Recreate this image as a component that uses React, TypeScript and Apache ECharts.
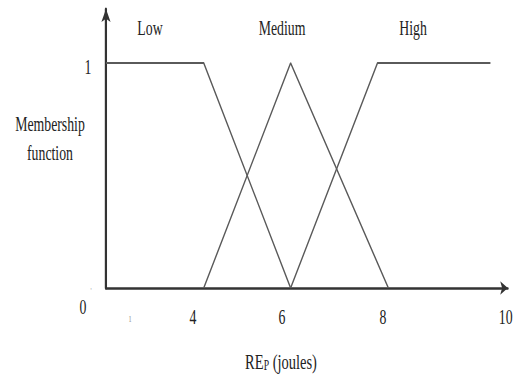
import React, { useEffect, useRef } from "react";
import * as echarts from "echarts";

// ---- data ----
const categories = ["Low", "Medium", "High"];
const lowX = [1.75, 4, 6];
const lowY = [1, 1, 0];
const mediumX = [4, 6, 8.25];
const mediumY = [0, 1, 0];
const highX = [6, 8, 10.6];
const highY = [0, 1, 1];
const xTickValues = [4, 6, 8, 10];
const xTickLabels = ["4", "6", "8", "10"];
const yTickValues = [0, 1];
const yTickLabels = ["'", "1"];
const xRange = [1.75, 11];
const yRange = [0, 1.24];

// ---- layout (the reference is horizontally compressed) ----
const SCALE_X = 0.69;
const W = 517 / SCALE_X;
const H = 376;
const FONT = "'Liberation Serif', 'Times New Roman', serif";
const TXT = "#222";
const xLabelPad = [
  [0, 31, 0, 0],
  [0, 25, 0, 0],
  [0, 0, 0, 16],
  [0, 0, 0, 120],
];

function zip(xs: number[], ys: number[]) {
  return xs.map((x, i) => [x, ys[i]]);
}

export default function App() {
  const ref = useRef<HTMLDivElement>(null);
  useEffect(() => {
    if (!ref.current) return;
    const chart = echarts.init(ref.current, null, { renderer: "svg" });
    const seriesData = [zip(lowX, lowY), zip(mediumX, mediumY), zip(highX, highY)];
    const xRich: any = {};
    xTickLabels.forEach((_, i) => {
      xRich["t" + i] = { fontSize: 20, fontFamily: FONT, color: TXT, padding: xLabelPad[i] };
    });
    const ax = (x: number) => x / SCALE_X;
    chart.setOption({
      animation: false,
      backgroundColor: "#ffffff",
      grid: { left: ax(106), right: W - ax(508), top: 9, bottom: 88, containLabel: false },
      xAxis: {
        type: "value",
        min: xRange[0],
        max: xRange[1],
        splitLine: { show: false },
        axisTick: { show: false },
        axisLine: {
          show: true,
          lineStyle: { color: "#333", width: 2.5 },
          symbol: ["none", "arrow"],
          symbolSize: [10, 11],
        },
        axisLabel: {
          show: true,
          customValues: xTickValues,
          margin: 20,
          formatter: (v: number) => {
            const i = xTickValues.indexOf(v);
            return i < 0 ? "" : `{t${i}|${xTickLabels[i]}}`;
          },
          rich: xRich,
        },
      },
      yAxis: {
        type: "value",
        min: yRange[0],
        max: yRange[1],
        splitLine: { show: false },
        axisTick: { show: false },
        axisLine: {
          show: true,
          lineStyle: { color: "#333", width: 3.2 },
          symbol: ["none", "arrow"],
          symbolSize: [10, 13],
        },
        axisLabel: {
          show: true,
          customValues: yTickValues,
          margin: 21,
          formatter: (v: number) => {
            const i = yTickValues.indexOf(v);
            return i < 0 ? "" : i === 0 ? `{s|${yTickLabels[i]}}` : `{n|${yTickLabels[i]}}`;
          },
          rich: {
            n: { fontSize: 20, fontFamily: FONT, color: TXT, padding: [10, 0, 0, 0] },
            s: { fontSize: 9, fontFamily: FONT, color: "#999", padding: [6, 0, 0, 0] },
          },
        },
      },
      series: categories.map((name, i) => ({
        name,
        type: "line",
        data: seriesData[i],
        symbol: "none",
        lineStyle: { color: "#5a5a5a", width: 1.9 },
      })),
      graphic: [
        ...categories.map((c, i) => ({
          type: "text",
          x: ax([150, 282, 413][i]),
          y: 29,
          style: { text: c, fontSize: 20, fontFamily: FONT, fill: TXT, align: "center", verticalAlign: "middle" },
        })),
        {
          type: "text",
          x: ax(50),
          y: 139,
          style: {
            text: "Membership\nfunction",
            fontSize: 20,
            lineHeight: 29,
            fontFamily: FONT,
            fill: TXT,
            align: "center",
            verticalAlign: "middle",
          },
        },
        {
          type: "text",
          x: ax(83),
          y: 308,
          style: { text: "0", fontSize: 20, fontFamily: FONT, fill: TXT, align: "center", verticalAlign: "middle" },
        },
        {
          type: "text",
          x: ax(130),
          y: 319,
          style: { text: "1", fontSize: 9, fontFamily: FONT, fill: "#888", align: "center", verticalAlign: "middle" },
        },
        {
          type: "text",
          x: ax(281),
          y: 362,
          style: {
            text: "{a|RE}{b|P}{a| (joules)}",
            align: "center",
            verticalAlign: "middle",
            rich: {
              a: { fontSize: 21, fontFamily: FONT, fill: TXT, verticalAlign: "bottom" },
              b: { fontSize: 14, fontFamily: FONT, fill: TXT, verticalAlign: "bottom", padding: [0, 0, 0, 0] },
            },
          },
        },
      ],
    });
    return () => chart.dispose();
  }, []);
  return (
    <div
      ref={ref}
      style={{
        position: "absolute",
        left: 0,
        top: 0,
        width: W,
        height: H,
        transform: `scaleX(${SCALE_X})`,
        transformOrigin: "0 0",
        background: "#fff",
      }}
    />
  );
}
